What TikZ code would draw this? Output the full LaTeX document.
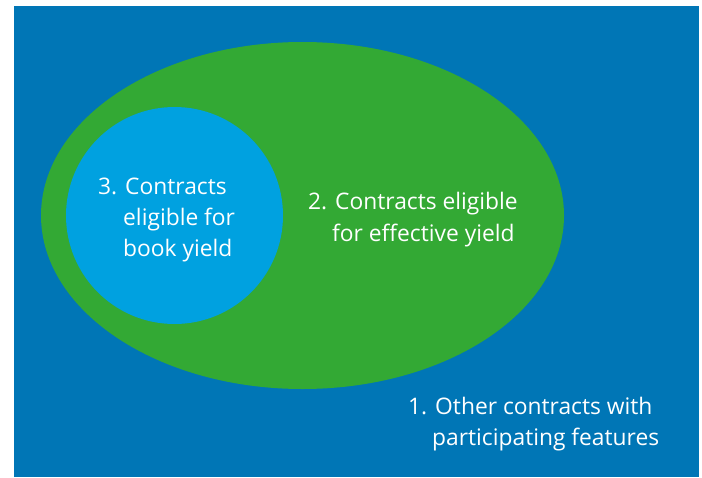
\documentclass[tikz,border=0pt]{standalone}
\usepackage{fontspec}
\setmainfont{Open Sans}
\definecolor{deepblue}{RGB}{0,118,182}
\definecolor{setgreen}{RGB}{51,169,52}
\definecolor{skyblue}{RGB}{0,161,224}
\begin{document}
\begin{tikzpicture}[x=1pt,y=-1pt,
  label/.style={text=white,font=\fontsize{22.8}{27}\selectfont,inner sep=0pt,anchor=base west}]
\useasboundingbox (0,0) rectangle (702,477);
% background field
\fill[deepblue] (14,5.5) rectangle (699,477);
% nested sets
\fill[setgreen] (302.5,215.5) ellipse [x radius=261.5, y radius=173.5];
\fill[skyblue] (174.5,215.5) circle [radius=108.5];
% set labels with hanging indent
\node[label] (c3a) at (98,194) {3. Contracts};
\node[label] (c3b) at (123,225) {eligible for};
\node[label] (c3c) at (123,256) {book yield};
\node[label] (c2a) at (308,209) {2. Contracts eligible};
\node[label] (c2b) at (332,241) {for effective yield};
\node[label] (c1a) at (408,414) {1. Other contracts with};
\node[label] (c1b) at (432,445) {participating features};
\end{tikzpicture}
\end{document}
